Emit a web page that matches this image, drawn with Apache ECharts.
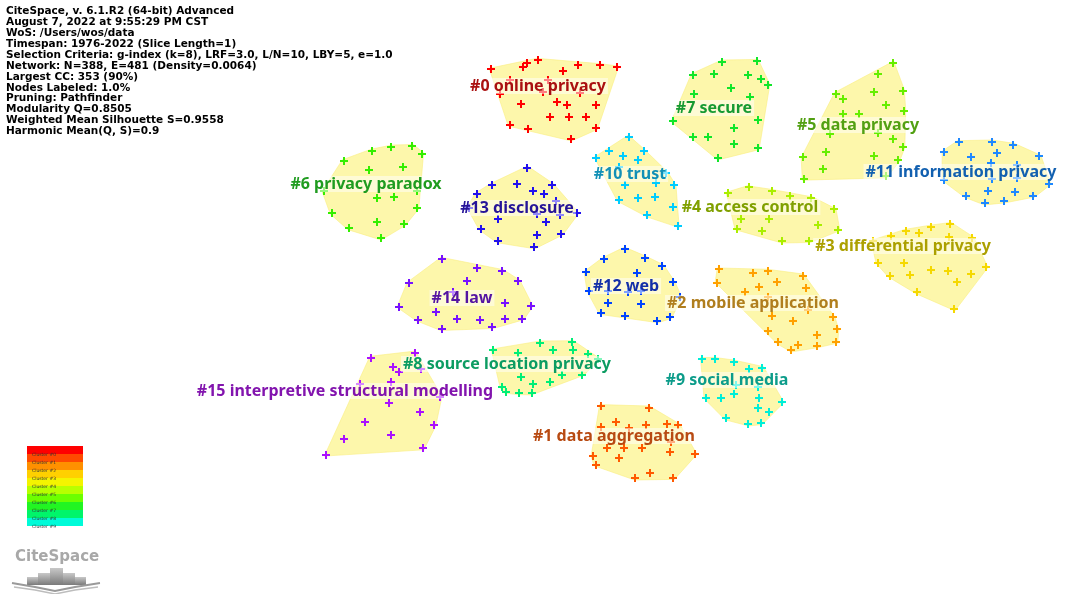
<!DOCTYPE html>
<html>
<head>
<meta charset="utf-8">
<script src="https://cdn.jsdelivr.net/npm/echarts@6/dist/echarts.min.js"></script>
<style>
  html, body { margin: 0; padding: 0; background: #fff; }
  #chart { width: 1069px; height: 594px; }
</style>
</head>
<body>
<div id="chart"></div>
<script>
// cluster names (label text)
const clusterLabels = [
  '#0 online privacy', '#1 data aggregation', '#2 mobile application', '#3 differential privacy',
  '#4 access control', '#5 data privacy', '#6 privacy paradox', '#7 secure',
  '#8 source location privacy', '#9 social media', '#10 trust', '#11 information privacy',
  '#12 web', '#13 disclosure', '#14 law', '#15 interpretive structural modelling'
];
// where each cluster label sits (map units)
const labelAnchors = [
  [538, 86], [614, 436], [753, 303], [903, 246], [750, 207], [858, 125], [366, 184], [714, 108],
  [507, 364], [727, 380], [630, 174], [961, 172], [626, 286], [517, 208], [462, 298], [345, 391]
];

// node positions per cluster (map units, y grows downward)
const c0 = [[491,69],[523,67],[527,63],[538,60],[563,71],[578,65],[600,65],[617,67],[510,80],[548,80],[543,92],[500,94],[580,93],[521,104],[557,102],[567,105],[596,105],[550,117],[569,117],[586,117],[510,125],[528,129],[596,128],[571,139]];
const c1 = [[601,406],[649,408],[616,422],[646,425],[667,424],[678,425],[601,427],[629,428],[671,442],[607,448],[624,448],[642,448],[670,452],[695,454],[593,456],[619,458],[596,465],[650,473],[635,478],[673,478]];
const c2 = [[719,269],[717,283],[753,273],[768,271],[803,276],[777,282],[759,287],[745,292],[806,288],[768,297],[808,310],[772,316],[793,321],[833,317],[768,331],[817,335],[837,329],[778,342],[798,345],[817,346],[836,342],[791,350]];
const c3 = [[950,224],[931,227],[906,231],[919,233],[891,236],[949,237],[972,238],[873,241],[878,263],[904,263],[931,270],[948,271],[890,276],[910,275],[971,274],[986,267],[957,282],[917,292],[954,309]];
const c4 = [[728,193],[749,187],[772,191],[790,196],[811,198],[834,209],[741,219],[769,219],[818,225],[737,229],[762,231],[838,230],[782,241],[809,241]];
const c5 = [[893,63],[878,74],[836,94],[843,99],[874,92],[903,91],[886,105],[904,111],[843,114],[859,114],[830,134],[878,133],[893,139],[903,147],[826,152],[803,157],[874,156],[898,160],[823,169],[804,179],[886,176]];
const c6 = [[344,161],[372,151],[391,147],[412,146],[422,154],[369,170],[403,167],[324,191],[377,198],[394,197],[417,191],[332,213],[417,208],[349,228],[377,222],[404,224],[381,238]];
const c7 = [[722,62],[757,61],[693,75],[714,74],[748,75],[761,79],[768,85],[731,88],[694,94],[750,97],[673,121],[758,120],[734,128],[693,137],[708,137],[734,144],[758,148],[718,158]];
const c8 = [[493,350],[518,353],[540,343],[572,342],[553,350],[573,350],[588,354],[598,359],[502,387],[506,392],[521,377],[533,384],[550,382],[562,375],[582,375],[519,393],[532,393]];
const c9 = [[702,359],[715,359],[734,362],[749,369],[762,368],[736,385],[758,387],[706,398],[721,398],[734,394],[759,398],[782,402],[758,408],[769,412],[726,418],[748,424],[761,423]];
const c10 = [[629,137],[609,151],[644,151],[596,158],[623,156],[638,160],[619,167],[666,173],[625,185],[656,183],[674,185],[619,200],[638,198],[655,197],[673,207],[647,215],[678,226]];
const c11 = [[959,142],[992,142],[1013,145],[944,152],[971,157],[997,153],[1039,156],[991,163],[1017,165],[944,180],[992,179],[1017,178],[1049,184],[988,191],[1015,192],[966,196],[985,203],[1004,201],[1033,196]];
const c12 = [[625,249],[604,259],[645,258],[662,266],[586,272],[637,273],[673,282],[680,297],[589,291],[608,291],[628,292],[641,291],[608,303],[641,304],[601,313],[625,316],[657,321],[670,317]];
const c13 = [[527,168],[492,185],[517,184],[552,185],[477,194],[533,191],[544,194],[556,201],[469,208],[537,214],[560,215],[577,213],[498,219],[546,222],[481,229],[537,235],[561,234],[498,241],[534,247]];
const c14 = [[442,259],[477,268],[502,271],[409,283],[467,281],[518,281],[453,292],[399,307],[436,312],[505,303],[531,306],[418,320],[457,319],[480,320],[505,319],[522,319],[442,329],[492,327]];
const c15 = [[371,358],[415,353],[393,367],[399,372],[421,369],[360,384],[391,382],[440,397],[389,403],[420,412],[365,422],[434,425],[344,439],[391,435],[423,448],[326,455]];
const clusters = [c0,c1,c2,c3,c4,c5,c6,c7,c8,c9,c10,c11,c12,c13,c14,c15];

const nodeColors = ['#ff0000','#ff5a00','#ffa000','#f5d800','#aaee00','#66ee00','#33ee00','#11e62a',
  '#00ee77','#00eed8','#00ccff','#1e88ff','#0044ff','#2211ee','#7711ff','#aa11ff'];
const labelColors = ['#aa1010','#b84a12','#b07e1e','#aca000','#80a000','#52a012','#209c20','#169a32',
  '#0c9c62','#0c9c8a','#1290b6','#1260b0','#1430a8','#261498','#5414a2','#8214ae'];

const legendColors = ['#ff0000','#ff4a00','#ff9000','#ffd000','#f4f400','#b8ff00','#6cff00','#22f522','#00f56a','#00fbd8'];
const legendNames = ['Cluster #0','Cluster #1','Cluster #2','Cluster #3','Cluster #4','Cluster #5','Cluster #6','Cluster #7','Cluster #8','Cluster #9'];

const infoLines = [
  'CiteSpace, v. 6.1.R2 (64-bit) Advanced',
  'August 7, 2022 at 9:55:29 PM CST',
  'WoS: /Users/wos/data',
  'Timespan: 1976-2022 (Slice Length=1)',
  'Selection Criteria: g-index (k=8), LRF=3.0, L/N=10, LBY=5, e=1.0',
  'Network: N=388, E=481 (Density=0.0064)',
  'Largest CC: 353 (90%)',
  'Nodes Labeled: 1.0%',
  'Pruning: Pathfinder',
  'Modularity Q=0.8505',
  'Weighted Mean Silhouette S=0.9558',
  'Harmonic Mean(Q, S)=0.9'
];

function hull(pts) {
  const p = pts.slice().sort((a, b) => a[0] - b[0] || a[1] - b[1]);
  const cross = (o, a, b) => (a[0]-o[0])*(b[1]-o[1]) - (a[1]-o[1])*(b[0]-o[0]);
  const lower = [], upper = [];
  for (const q of p) {
    while (lower.length >= 2 && cross(lower[lower.length-2], lower[lower.length-1], q) <= 0) lower.pop();
    lower.push(q);
  }
  for (let i = p.length - 1; i >= 0; i--) {
    const q = p[i];
    while (upper.length >= 2 && cross(upper[upper.length-2], upper[upper.length-1], q) <= 0) upper.pop();
    upper.push(q);
  }
  upper.pop(); lower.pop();
  return lower.concat(upper);
}

const plus = 'path://M3,0H5V3H8V5H5V8H3V5H0V3H3Z';

const chart = echarts.init(document.getElementById('chart'));

const series = [];
// yellow cluster areas
series.push({
  type: 'custom',
  z: 1,
  silent: true,
  data: clusters.map((c, i) => [c[0][0], c[0][1], i]),
  renderItem: function (params, api) {
    const idx = api.value(2);
    const px = clusters[idx].map(p => api.coord(p));
    const h = hull(px);
    const cx = h.reduce((s, p) => s + p[0], 0) / h.length;
    const cy = h.reduce((s, p) => s + p[1], 0) / h.length;
    const pts = h.map(p => {
      const dx = p[0] - cx, dy = p[1] - cy, d = Math.sqrt(dx*dx + dy*dy) || 1;
      return [p[0] + dx / d * 2, p[1] + dy / d * 2];
    });
    return {
      type: 'polygon',
      shape: { points: pts },
      style: { fill: '#fdf7ab', stroke: 'rgba(250,238,130,0.6)', lineWidth: 1 }
    };
  }
});
clusters.forEach((c, i) => {
  series.push({
    type: 'scatter',
    z: 3,
    symbol: plus,
    symbolSize: 8,
    itemStyle: { color: nodeColors[i], opacity: 1 },
    data: c
  });
});
// cluster labels
series.push({
  type: 'scatter',
  z: 5,
  symbolSize: 1,
  itemStyle: { color: 'rgba(0,0,0,0)', opacity: 1 },
  data: labelAnchors.map((p, i) => ({ value: p, name: clusterLabels[i],
    label: { color: labelColors[i] } })),
  label: {
    show: true,
    position: 'inside',
    formatter: '{b}',
    fontFamily: 'Noto Sans',
    fontWeight: 'bold',
    fontSize: 16,
    backgroundColor: 'rgba(255,255,255,0.5)',
    padding: [0, 2]
  }
});

const graphics = [{
  type: 'text',
  left: 6, top: 6,
  style: {
    text: infoLines.join('\n'),
    font: 'bold 10.5px "DejaVu Sans"',
    lineHeight: 10.9,
    fill: '#000'
  }
}];
legendColors.forEach((col, i) => {
  graphics.push({ type: 'rect', shape: { x: 27, y: 446 + i * 8, width: 56, height: 8 }, style: { fill: col } });
});
legendNames.forEach((n, i) => {
  graphics.push({ type: 'text', x: 32, y: 455 + i * 8,
    style: { text: n, font: '4.5px "DejaVu Sans"', fill: '#333', verticalAlign: 'middle' } });
});
// CiteSpace logo
graphics.push({ type: 'text', x: 15, y: 550,
  style: { text: 'CiteSpace', font: 'bold 15px "DejaVu Sans"', fill: '#a8a8a8' } });
[[27,577,11,8],[38,573,12,12],[50,568,13,17],[63,573,12,12],[75,577,11,8]].forEach(b => {
  graphics.push({ type: 'rect', shape: { x: b[0], y: b[1], width: b[2], height: b[3] },
    style: { fill: new echarts.graphic.LinearGradient(0, 0, 0, 1, [
      { offset: 0, color: '#c8c8c8' }, { offset: 1, color: '#7a7a7a' }]) } });
});
graphics.push({ type: 'polyline', shape: { points: [[12,583],[35,587],[55,591],[75,587],[100,583]] },
  style: { stroke: '#9a9a9a', lineWidth: 2, fill: null } });
graphics.push({ type: 'polyline', shape: { points: [[14,587],[35,590],[55,594],[75,590],[98,587]] },
  style: { stroke: '#bdbdbd', lineWidth: 1.5, fill: null } });

chart.setOption({
  animation: false,
  grid: { left: 0, right: 0, top: 0, bottom: 0 },
  xAxis: { type: 'value', min: 0, max: 1069, show: false },
  yAxis: { type: 'value', min: 0, max: 594, inverse: true, show: false },
  series: series,
  graphic: graphics
});
</script>
</body>
</html>
